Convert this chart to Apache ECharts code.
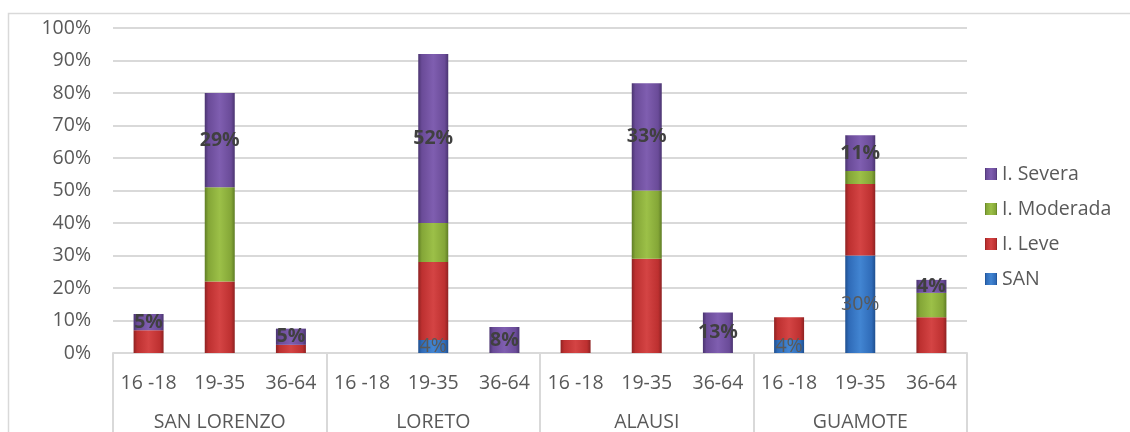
<!DOCTYPE html>
<html>
<head>
<meta charset="utf-8">
<script src="https://cdn.jsdelivr.net/npm/echarts@6/dist/echarts.min.js"></script>
<style>
  html, body { margin: 0; padding: 0; background: #fff; }
  #chart { width: 1130px; height: 432px; }
</style>
</head>
<body>
<div id="chart"></div>
<script>
// categorias
var ages = ['16 -18', '19-35', '36-64', '16 -18', '19-35', '36-64', '16 -18', '19-35', '36-64', '16 -18', '19-35', '36-64'];
var groups = ['SAN LORENZO', 'LORETO', 'ALAUSI', 'GUAMOTE'];

// valores (%)
var san      = [0, 0, 0,   0, 4, 0,    0, 0, 0,     4, 30, 0];
var leve     = [7, 22, 2.5, 0, 24, 0,  4, 29, 0,    7, 22, 11];
var moderada = [0, 29, 0,  0, 12, 0,   0, 21, 0,    0, 4, 7.5];
var severa   = [5, 29, 5,  0, 52, 8,   0, 33, 12.5, 0, 11, 4];

var yTicks = [0, 10, 20, 30, 40, 50, 60, 70, 80, 90, 100];

var textColor = '#595959';
var gridColor = '#d9d9d9';
var fs = 19.5;

function bevel(dark, mid, light) {
  return new echarts.graphic.LinearGradient(0, 0, 1, 0, [
    { offset: 0, color: dark },
    { offset: 0.12, color: mid },
    { offset: 0.5, color: light },
    { offset: 0.88, color: mid },
    { offset: 1, color: dark }
  ]);
}

function pct(p) {
  return p.value ? Math.round(p.value) + '%' : '';
}

// los ceros no se dibujan
function noZero(arr) {
  return arr.map(function (v) { return v === 0 ? '-' : v; });
}

var myChart = echarts.init(document.getElementById('chart'));

var option = {
  animation: false,
  textStyle: { fontFamily: 'Open Sans' },
  grid: { left: 113, right: 163, top: 28, bottom: 78 },
  graphic: [{
    type: 'rect',
    shape: { x: 8.5, y: 13.5, width: 1200, height: 500 },
    style: { fill: 'none', stroke: gridColor, lineWidth: 1.5 },
    silent: true
  }],
  legend: {
    orient: 'vertical',
    left: 980,
    top: 159,
    itemWidth: 12,
    itemHeight: 12,
    itemGap: 15,
    icon: 'rect',
    data: ['I. Severa', 'I. Moderada', 'I. Leve', 'SAN'],
    textStyle: { color: textColor, fontSize: fs, fontFamily: 'Open Sans' }
  },
  xAxis: [
    {
      type: 'category',
      data: ages,
      position: 'bottom',
      axisLine: { lineStyle: { color: gridColor, width: 2 } },
      axisTick: { show: false },
      axisLabel: { color: textColor, fontSize: fs, margin: 20, interval: 0 }
    },
    {
      type: 'category',
      data: groups,
      position: 'bottom',
      offset: 0,
      axisLine: { show: false },
      axisTick: { show: true, interval: 0, length: 90, lineStyle: { color: gridColor, width: 2 } },
      axisLabel: { color: textColor, fontSize: fs, margin: 59, interval: 0 }
    }
  ],
  yAxis: {
    type: 'value',
    min: yTicks[0],
    max: yTicks[yTicks.length - 1],
    interval: 10,
    axisLine: { show: false },
    axisTick: { show: false },
    axisLabel: { color: textColor, fontSize: fs, margin: 22, formatter: '{value}%' },
    splitLine: { lineStyle: { color: gridColor, width: 2 } }
  },
  series: [
    {
      name: 'SAN',
      type: 'bar',
      stack: 'total',
      barWidth: 30,
      data: noZero(san),
      itemStyle: { color: bevel('#1f4f8f', '#2f6bb8', '#4285d2') },
      label: { show: true, position: 'inside', formatter: pct, color: textColor, fontSize: fs }
    },
    {
      name: 'I. Leve',
      type: 'bar',
      stack: 'total',
      barWidth: 30,
      data: noZero(leve),
      itemStyle: { color: bevel('#8e2222', '#bd3030', '#d44444') }
    },
    {
      name: 'I. Moderada',
      type: 'bar',
      stack: 'total',
      barWidth: 30,
      data: noZero(moderada),
      itemStyle: { color: bevel('#5f7d25', '#84a637', '#9cc048') }
    },
    {
      name: 'I. Severa',
      type: 'bar',
      stack: 'total',
      barWidth: 30,
      data: noZero(severa),
      itemStyle: { color: bevel('#4a3470', '#6a4b98', '#7f5eb0') },
      label: { show: true, position: 'inside', formatter: pct, color: '#404040', fontSize: fs, fontWeight: 'bold' }
    }
  ]
};

myChart.setOption(option);
window.addEventListener('resize', function () {
  myChart.resize();
});
</script>
</body>
</html>
